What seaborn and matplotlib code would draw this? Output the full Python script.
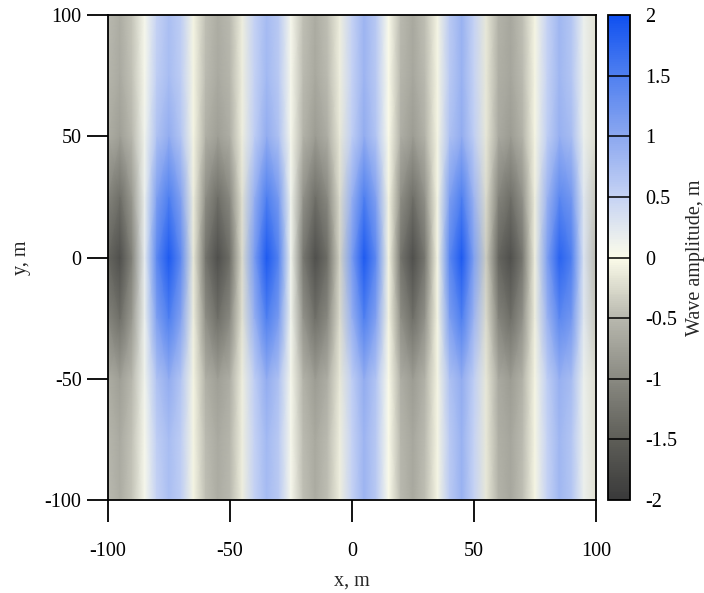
import matplotlib
matplotlib.use("Agg")
import matplotlib.pyplot as plt
import numpy as np
import seaborn as sns
from matplotlib.colors import LinearSegmentedColormap

# grid of the wave field (m)
x_m = [-100, -95, -90, -85, -80, -75, -70, -65, -60, -55, -50, -45, -40, -35,
       -30, -25, -20, -15, -10, -5, 0, 5, 10, 15, 20, 25, 30, 35, 40, 45, 50,
       55, 60, 65, 70, 75, 80, 85, 90, 95, 100]
y_m = [-100, -75, -50, -25, 0, 25, 50, 75, 100]

# wave amplitude (m), one row per y value
row_y_m100 = [-0.5, -0.62, -0.4, 0.05, 0.5, 0.72, 0.55, -0.05, -0.45, -0.62, -0.5, -0.1, 0.5, 0.78,
              0.6, 0.05, -0.45, -0.64, -0.45, -0.1, 0.5, 0.85, 0.6, 0.0, -0.5, -0.66, -0.45, -0.05,
              0.6, 0.88, 0.5, -0.15, -0.55, -0.68, -0.45, -0.05, 0.5, 0.82, 0.65, 0.15, -0.2]
row_y_m75 = [-0.52, -0.65, -0.42, 0.05, 0.55, 0.75, 0.55, -0.05, -0.48, -0.65, -0.52, -0.1, 0.5, 0.8,
             0.6, 0.05, -0.48, -0.66, -0.48, -0.1, 0.5, 0.85, 0.6, 0.0, -0.52, -0.68, -0.48, -0.05,
             0.6, 0.88, 0.5, -0.15, -0.58, -0.7, -0.48, -0.05, 0.5, 0.82, 0.65, 0.15, -0.22]
row_y_m50 = [-0.62, -0.78, -0.5, 0.1, 0.7, 0.95, 0.65, -0.05, -0.58, -0.78, -0.6, -0.1, 0.55, 0.95,
             0.7, 0.05, -0.55, -0.8, -0.6, -0.15, 0.55, 0.95, 0.65, 0.0, -0.6, -0.8, -0.55, -0.05,
             0.7, 0.95, 0.55, -0.15, -0.65, -0.8, -0.55, -0.05, 0.55, 0.9, 0.75, 0.15, -0.25]
row_y_m25 = [-1.05, -1.3, -0.8, 0.15, 1.1, 1.5, 1.05, -0.1, -0.95, -1.3, -1.0, -0.2, 0.9, 1.5,
             1.15, 0.1, -0.9, -1.3, -1.0, -0.25, 0.9, 1.5, 1.05, -0.05, -0.95, -1.3, -0.9, -0.05,
             1.1, 1.5, 0.85, -0.25, -1.05, -1.3, -0.9, -0.1, 0.85, 1.4, 1.2, 0.25, -0.4]
row_y_0 = [-1.4, -1.7, -1.05, 0.2, 1.4, 1.9, 1.35, -0.15, -1.25, -1.7, -1.3, -0.25, 1.15, 1.9,
           1.45, 0.1, -1.2, -1.7, -1.3, -0.3, 1.15, 1.9, 1.35, -0.05, -1.25, -1.7, -1.2, -0.05,
           1.4, 1.9, 1.1, -0.35, -1.4, -1.7, -1.2, -0.1, 1.1, 1.8, 1.5, 0.3, -0.5]
row_y_25 = [-1.05, -1.3, -0.8, 0.15, 1.1, 1.5, 1.05, -0.1, -0.95, -1.3, -1.0, -0.2, 0.9, 1.5,
            1.15, 0.1, -0.9, -1.3, -1.0, -0.25, 0.9, 1.5, 1.05, -0.05, -0.95, -1.3, -0.9, -0.05,
            1.1, 1.5, 0.85, -0.25, -1.05, -1.3, -0.9, -0.1, 0.85, 1.4, 1.2, 0.25, -0.4]
row_y_50 = [-0.62, -0.78, -0.5, 0.1, 0.7, 0.95, 0.65, -0.05, -0.58, -0.78, -0.6, -0.1, 0.55, 0.95,
            0.7, 0.05, -0.55, -0.8, -0.6, -0.15, 0.55, 0.95, 0.65, 0.0, -0.6, -0.8, -0.55, -0.05,
            0.7, 0.95, 0.55, -0.15, -0.65, -0.8, -0.55, -0.05, 0.55, 0.9, 0.75, 0.15, -0.25]
row_y_75 = [-0.52, -0.65, -0.42, 0.05, 0.55, 0.75, 0.55, -0.05, -0.48, -0.65, -0.52, -0.1, 0.5, 0.8,
            0.6, 0.05, -0.48, -0.66, -0.48, -0.1, 0.5, 0.85, 0.6, 0.0, -0.52, -0.68, -0.48, -0.05,
            0.6, 0.88, 0.5, -0.15, -0.58, -0.7, -0.48, -0.05, 0.5, 0.82, 0.65, 0.15, -0.22]
row_y_100 = [-0.5, -0.62, -0.4, 0.05, 0.5, 0.72, 0.55, -0.05, -0.45, -0.62, -0.5, -0.1, 0.5, 0.78,
             0.6, 0.05, -0.45, -0.64, -0.45, -0.1, 0.5, 0.85, 0.6, 0.0, -0.5, -0.66, -0.45, -0.05,
             0.6, 0.88, 0.5, -0.15, -0.55, -0.68, -0.45, -0.05, 0.5, 0.82, 0.65, 0.15, -0.2]

ticks_xy = [-100, -50, 0, 50, 100]
ticks_cbar = [-2, -1.5, -1, -0.5, 0, 0.5, 1, 1.5, 2]
tick_labels_cbar = ["-2", "-1.5", "-1", "-0.5", "0", "0.5", "1", "1.5", "2"]

cmap_colors = ["#3a3a3a", "#5e5e58", "#8a8a82", "#b8b8ae", "#fcfcea",
               "#c6d3f4", "#8ca8f0", "#5080f0", "#1050f0"]


def main():
    sns.set_style("ticks")
    plt.rcParams['font.family'] = ['Liberation Serif', 'DejaVu Serif']
    plt.rcParams['font.size'] = 14.5

    z = np.array([row_y_m100, row_y_m75, row_y_m50, row_y_m25, row_y_0,
                  row_y_25, row_y_50, row_y_75, row_y_100])
    cmap = LinearSegmentedColormap.from_list("wave", cmap_colors, N=256)

    fig = plt.figure(figsize=(7.04, 5.93), dpi=100)
    ax = fig.add_axes([0.1534, 0.1568, 0.6932, 0.8179])
    cax = fig.add_axes([0.8636, 0.1568, 0.0313, 0.8179])

    mesh = ax.pcolormesh(x_m, y_m, z, cmap=cmap, vmin=-2, vmax=2, shading="gouraud")
    ax.set_xlim(-100, 100)
    ax.set_ylim(-100, 100)
    ax.set_xticks(ticks_xy)
    ax.set_yticks(ticks_xy)
    ax.set_xticklabels([str(t) for t in ticks_xy])
    ax.set_yticklabels([str(t) for t in ticks_xy])
    ax.tick_params(axis="x", direction="out", length=16, width=1.3, pad=14, colors="black")
    ax.tick_params(axis="y", direction="out", length=15, width=1.3, pad=4, colors="black")
    for s in ax.spines.values():
        s.set_linewidth(1.3)
        s.set_color("black")
    ax.set_xlabel("x, m", labelpad=8)
    ax.set_ylabel("y, m", labelpad=10)

    cbar = fig.colorbar(mesh, cax=cax, ticks=ticks_cbar)
    cbar.ax.set_yticklabels(tick_labels_cbar)
    cbar.outline.set_linewidth(1.3)
    cbar.outline.set_edgecolor("black")
    cbar.ax.tick_params(length=0, pad=11, colors="black")
    # tick lines across the colour bar
    for t in ticks_cbar[1:-1]:
        cbar.ax.axhline(t, color="black", lw=1.1)
    cbar.set_label("Wave amplitude, m", labelpad=6)

    fig.savefig("out.png", dpi=100)


if __name__ == "__main__":
    main()
